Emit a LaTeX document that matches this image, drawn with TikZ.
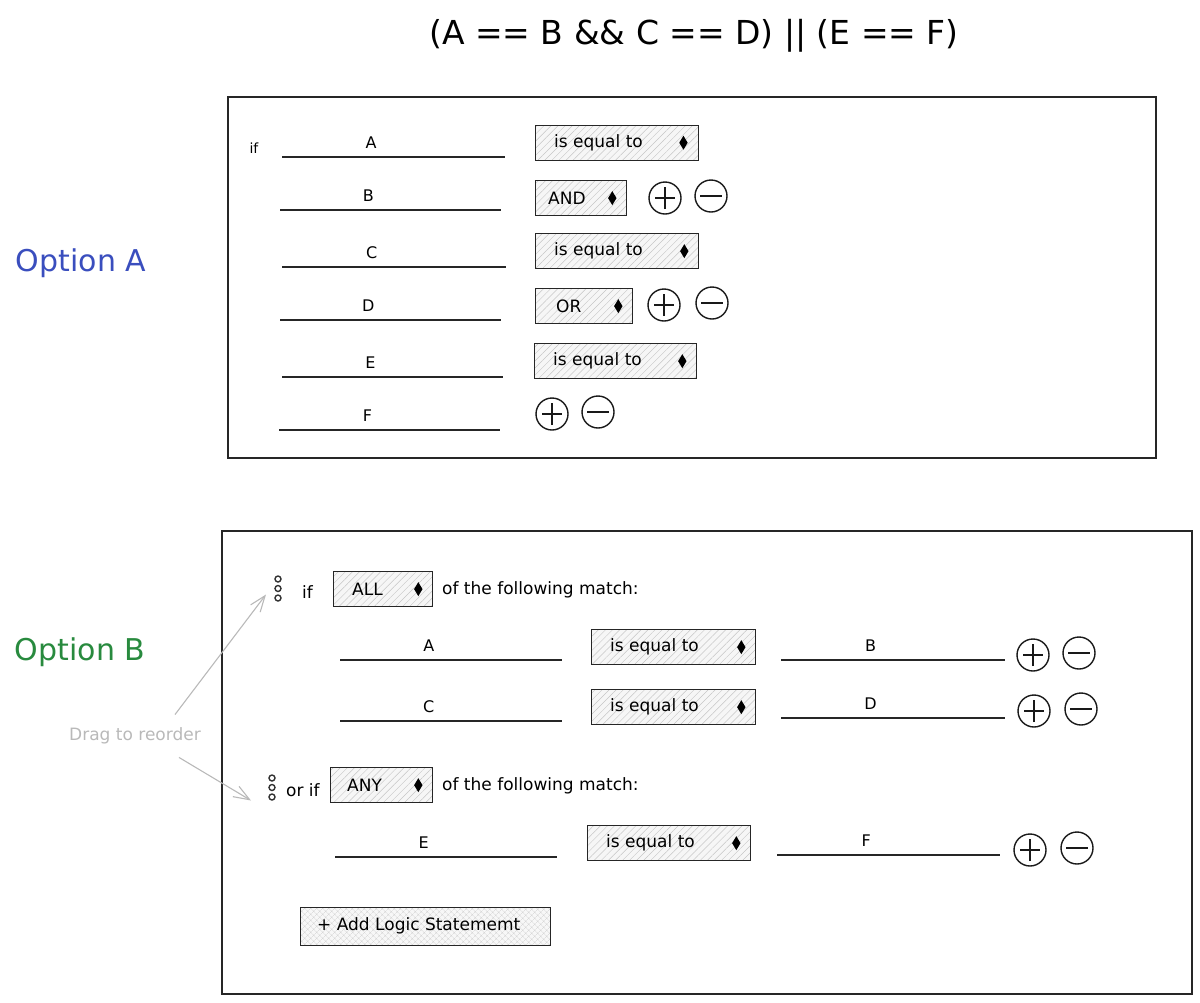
\documentclass[tikz,border=0pt]{standalone}
\usepackage{fontspec}
\setmainfont{DejaVu Sans}
\usetikzlibrary{patterns.meta,arrows.meta,calc}
\definecolor{optblue}{RGB}{58,78,190}
\definecolor{optgreen}{RGB}{40,138,62}
\definecolor{hintgray}{RGB}{185,185,185}
\newcommand\ddbox[6]{%
  \node[dd, minimum width=#4, minimum height=35] (#1) at (#2,#3) {};
  \node[ddt, anchor=west] (#1-t) at ([xshift=#5]#1.west) {#6};
  \fill ([xshift=-15]#1.east) +(0,-7) -- +(4.2,0) -- +(0,7) -- +(-4.2,0) -- cycle;
}
\newcommand\inputline[5]{%
  \coordinate (#1-l) at (#2,#4);
  \coordinate (#1-r) at (#3,#4);
  \draw[uline] (#1-l) -- (#1-r);
  \node[lbl] (#1-t) at ($(#1-l)!0.4!(#1-r)+(0,-14)$) {#5};
}
\newcommand\handledots[3]{%
  \foreach \k in {0,1,2} {\draw[handle] (#2,#3+\k*9.5) circle[radius=3];}
  \coordinate (#1) at (#2,#3+9.5);
}
\begin{document}
\begin{tikzpicture}[x=1pt,y=-1pt,
  frame/.style={draw=black!85, line width=1.6pt, anchor=north west, inner sep=0},
  dd/.style={draw=black!85, line width=1.3pt, anchor=north west, inner sep=0,
    preaction={fill=gray!7},
    pattern={Lines[angle=45,distance=5pt,line width=0.45pt]}, pattern color=gray!45},
  btn/.style={draw=black!85, line width=1.3pt, anchor=north west, inner sep=0,
    preaction={fill=gray!6},
    pattern={Hatch[angle=45,distance=4pt,line width=0.35pt]}, pattern color=gray!35},
  ddt/.style={font=\fontsize{17}{20}\selectfont, inner sep=0},
  lbl/.style={font=\fontsize{16}{19}\selectfont, inner sep=0},
  txt/.style={font=\fontsize{17}{20}\selectfont, inner sep=0, anchor=west},
  uline/.style={draw=black!85, line width=1.3pt},
  handle/.style={draw=black!80, line width=1.4pt},
  pm/.style={circle, draw=black!90, line width=1.4pt, minimum size=32, inner sep=0},
  plus/.style={pm, path picture={\draw[line width=1.3pt]
     ([xshift=-10]path picture bounding box.center) -- ([xshift=10]path picture bounding box.center)
     ([yshift=-11]path picture bounding box.center) -- ([yshift=11]path picture bounding box.center);}},
  minus/.style={pm, path picture={\draw[line width=1.3pt]
     ([xshift=-11]path picture bounding box.center) -- ([xshift=11]path picture bounding box.center);}},
  arr/.style={draw=hintgray, line width=1.1pt, -{Straight Barb[length=16pt,width=12pt,line width=1.1pt]}}
]
\useasboundingbox (0,0) rectangle (1200,1002);

% title
\node[font=\fontsize{33}{40}\selectfont, inner sep=0] (title) at (694,36) {(A == B \&\& C == D) || (E == F)};

% ---------- Option A ----------
\node[font=\fontsize{30}{36}\selectfont, text=optblue, inner sep=0] (optA) at (81,263) {Option A};
\node[frame, minimum width=928, minimum height=361] (boxA) at (227,96) {};
\node[font=\fontsize{14}{16}\selectfont, inner sep=0] (ifA) at (254,148) {if};

\inputline{a}{282}{505}{157}{A}
\inputline{b}{280}{501}{210}{B}
\inputline{c}{282}{506}{267}{C}
\inputline{d}{280}{501}{320}{D}
\inputline{e}{282}{503}{377}{E}
\inputline{f}{279}{500}{430}{F}

\ddbox{ddA1}{535}{125}{163}{19}{is equal to}
\ddbox{ddA2}{535}{180}{91}{13}{AND}
\node[plus]  (pA1) at (665,198) {};
\node[minus] (mA1) at (711,196) {};
\ddbox{ddA3}{535}{233}{163}{19}{is equal to}
\ddbox{ddA4}{535}{288}{97}{21}{OR}
\node[plus]  (pA2) at (664,305) {};
\node[minus] (mA2) at (712,303) {};
\ddbox{ddA5}{534}{343}{162}{19}{is equal to}
\node[plus]  (pA3) at (552,414) {};
\node[minus] (mA3) at (598,412) {};

% ---------- Option B ----------
\node[font=\fontsize{30}{36}\selectfont, text=optgreen, inner sep=0] (optB) at (80,652) {Option B};
\node[frame, minimum width=970, minimum height=463] (boxB) at (221,530) {};

\handledots{h1}{278}{579}
\node[txt] (ifB) at (302,592) {if};
\ddbox{ddB1}{333}{571}{99}{19}{ALL}
\node[txt] (ofB1) at (442,590) {of the following match:};

\inputline{ba}{340}{562}{660}{A}
\ddbox{ddB2}{591}{629}{164}{19}{is equal to}
\inputline{bb}{781}{1005}{660}{B}
\node[plus]  (pB1) at (1033,655) {};
\node[minus] (mB1) at (1079,653) {};

\inputline{bc}{340}{562}{721}{C}
\ddbox{ddB3}{591}{689}{164}{19}{is equal to}
\inputline{bd}{781}{1005}{718}{D}
\node[plus]  (pB2) at (1034,711) {};
\node[minus] (mB2) at (1081,709) {};

\handledots{h2}{272}{778}
\node[txt] (orifB) at (286,790) {or if};
\ddbox{ddB4}{330}{767}{102}{17}{ANY}
\node[txt] (ofB2) at (442,786) {of the following match:};

\inputline{be}{335}{557}{857}{E}
\ddbox{ddB5}{587}{825}{163}{19}{is equal to}
\inputline{bf}{777}{1000}{855}{F}
\node[plus]  (pB3) at (1030,850) {};
\node[minus] (mB3) at (1077,848) {};

\node[btn, minimum width=250, minimum height=38] (addbtn) at (300,907) {};
\node[txt] (addtxt) at ([xshift=17]addbtn.west) {+ Add Logic Statememt};

% hint
\node[font=\fontsize{17}{20}\selectfont, text=hintgray, inner sep=0] (drag) at (135,736) {Drag to reorder};
\draw[arr] ([shift={(-26,-13)}]drag.north east) -- ([shift={(-12,6)}]h1);
\draw[arr] ([shift={(-22,13)}]drag.south east) -- ([shift={(-21,13)}]h2);
\end{tikzpicture}
\end{document}
